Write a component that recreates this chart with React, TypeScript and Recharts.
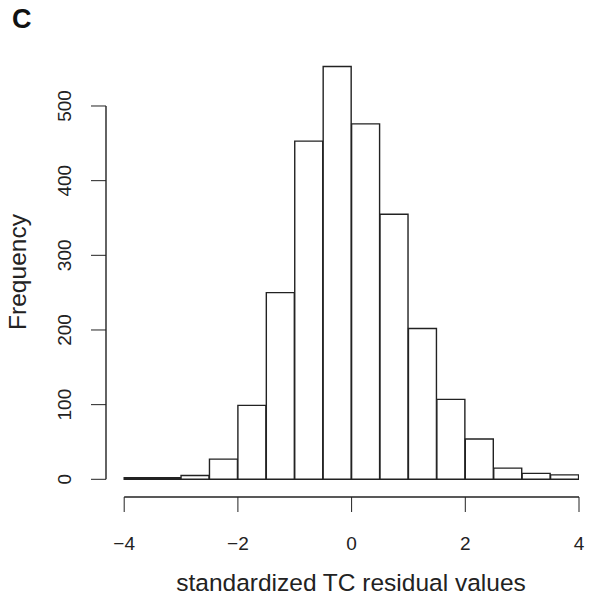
import React from 'react';
import { ComposedChart, Bar, XAxis, YAxis, ReferenceLine, Label } from 'recharts';

const binLows = [-4, -3.5, -3, -2.5, -2, -1.5, -1, -0.5, 0, 0.5, 1, 1.5, 2, 2.5, 3, 3.5];
const binWidth = 0.5;
const counts = [2, 2, 5, 27, 99, 250, 453, 553, 476, 355, 202, 107, 54, 15, 8, 6];
const xTicks = [-4, -2, 0, 2, 4];
const yTicks = [0, 100, 200, 300, 400, 500];
const xTitle = 'standardized TC residual values';
const yTitle = 'Frequency';
const panelLabel = 'C';

const data = binLows.map((lo, i) => ({ mid: lo + binWidth / 2, count: counts[i] }));

const FONT = '"Liberation Sans", Arial, sans-serif';
const INK = '#222';
const fmt = (v: number) => String(v).replace('-', '\u2212');

const YTick = (props: any) => {
  const { x, y, payload } = props;
  const bx = x - 18;
  return (
    <text x={bx} y={y} transform={`rotate(-90 ${bx} ${y})`} textAnchor="middle" fontSize={19} fill={INK} fontFamily={FONT}>
      {fmt(payload.value)}
    </text>
  );
};

export default function App() {
  return (
    <div style={{ position: 'absolute', left: 0, top: 0, width: 605, height: 613, background: '#fff' }}>
      <div style={{ position: 'absolute', left: 12, top: 6, fontFamily: FONT, fontWeight: 'bold', fontSize: 27, lineHeight: '27px', color: '#111' }}>
        {panelLabel}
      </div>
      <ComposedChart
        width={605}
        height={613}
        data={data}
        margin={{ top: 50, right: 26, bottom: 56, left: 46 }}
        barCategoryGap={0}
        barGap={0}
      >
        <XAxis
          dataKey="mid"
          type="number"
          domain={[-4.32, 4]}
          allowDataOverflow
          ticks={xTicks}
          interval={0}
          tickSize={15}
          tickMargin={25}
          axisLine={false}
          stroke={INK}
          tick={{ fontSize: 19, fill: INK, fontFamily: FONT }}
          tickFormatter={fmt}
          height={60}
        >
          <Label
            content={() => (
              <text x={351} y={591} textAnchor="middle" fontSize={24.5} fill={INK} fontFamily={FONT}>
                {xTitle}
              </text>
            )}
          />
        </XAxis>
        <YAxis
          type="number"
          domain={[-23.7, 575]}
          allowDataOverflow
          ticks={yTicks}
          interval={0}
          tickSize={15}
          axisLine={false}
          stroke={INK}
          tick={<YTick />}
          width={60}
        >
          <Label
            content={() => (
              <text x={26} y={272} transform="rotate(-90 26 272)" textAnchor="middle" fontSize={24.5} fill={INK} fontFamily={FONT}>
                {yTitle}
              </text>
            )}
          />
        </YAxis>
        <Bar dataKey="count" fill="#fff" stroke={INK} strokeWidth={1.4} isAnimationActive={false} />
        <ReferenceLine segment={[{ x: -4, y: -23.7 }, { x: 4, y: -23.7 }]} stroke={INK} strokeWidth={1.4} ifOverflow="visible" />
        <ReferenceLine segment={[{ x: -4.32, y: 0 }, { x: -4.32, y: 500 }]} stroke={INK} strokeWidth={1.4} ifOverflow="visible" />
      </ComposedChart>
    </div>
  );
}
